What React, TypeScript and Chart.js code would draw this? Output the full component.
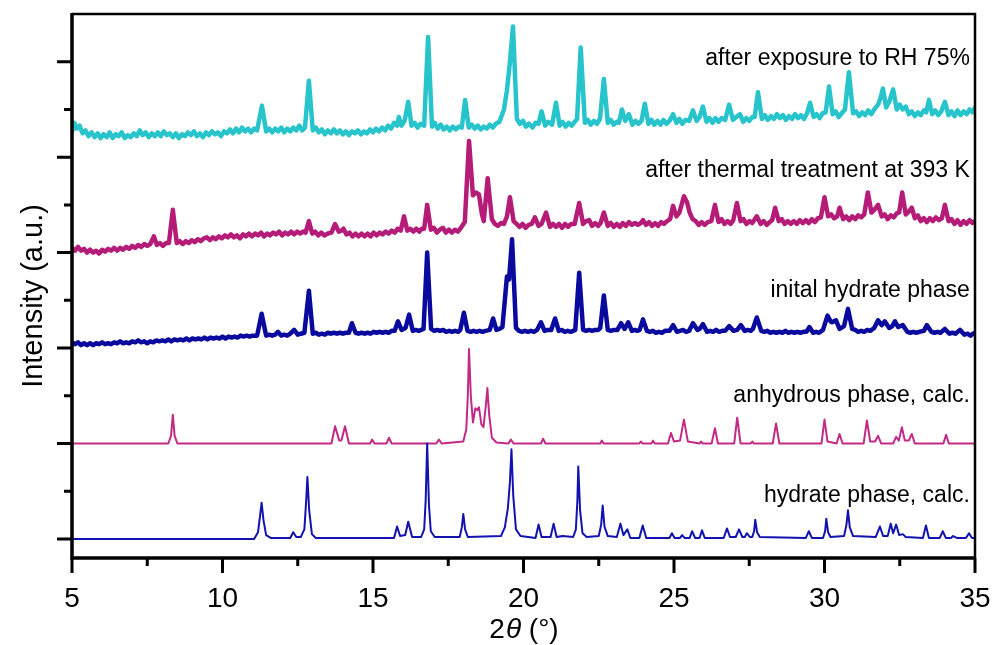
import React, { useEffect, useRef } from "react";
import { Chart, registerables } from "chart.js";

Chart.register(...registerables);

type Pt = [number, number];

const xMajorTicks = [5, 10, 15, 20, 25, 30, 35];
const xMinorTicks = [7.5, 12.5, 17.5, 22.5, 27.5, 32.5];
const yMajorTicks = [0, 1, 2, 3, 4, 5];
const yMinorTicks = [0.5, 1.5, 2.5, 3.5, 4.5];

const seriesNames = [
  "hydrate phase, calc.",
  "anhydrous phase, calc.",
  "inital hydrate phase",
  "after thermal treatment at 393 K",
  "after exposure to RH 75%",
];
const labelX = 34.83;
const labelY = [0.39, 1.43, 2.53, 3.79, 4.97];

const hydrateCalc: Pt[] = [
  [5, 0], [11.05, 0], [11.18, 0.07], [11.25, 0.25], [11.3, 0.38], [11.36, 0.2], [11.45, 0.04], [11.6, 0.01],
  [12.25, 0.01], [12.35, 0.07], [12.45, 0.02], [12.6, 0.02], [12.72, 0.1], [12.78, 0.4], [12.82, 0.65], [12.88, 0.3],
  [12.97, 0.05], [13.1, 0.01], [15.7, 0.01], [15.8, 0.13], [15.9, 0.03], [16.07, 0.04], [16.17, 0.18], [16.3, 0.02],
  [16.6, 0.02], [16.7, 0.1], [16.75, 0.4], [16.8, 1.0], [16.86, 0.35], [16.92, 0.08], [17.05, 0.02],
  [17.88, 0.02], [17.95, 0.12], [18.0, 0.26], [18.06, 0.1], [18.15, 0.02],
  [19.25, 0.03], [19.38, 0.12], [19.48, 0.32], [19.55, 0.6], [19.6, 0.94], [19.66, 0.45], [19.75, 0.1], [19.9, 0.03],
  [20.4, 0.01], [20.5, 0.15], [20.6, 0.02], [20.9, 0.02], [21.0, 0.16], [21.1, 0.02], [21.3, 0.03],
  [21.65, 0.02], [21.74, 0.1], [21.79, 0.4], [21.82, 0.76], [21.88, 0.3], [21.96, 0.06], [22.1, 0.02],
  [22.5, 0.03], [22.58, 0.15], [22.63, 0.35], [22.69, 0.13], [22.8, 0.03], [23.1, 0.02],
  [23.22, 0.16], [23.32, 0.04], [23.45, 0.1], [23.55, 0.01], [23.85, 0.01], [23.96, 0.14], [24.08, 0.01], [24.85, 0.01],
  [24.93, 0.06], [25.02, 0.01], [25.2, 0.01], [25.27, 0.04], [25.35, 0.01], [25.52, 0.01], [25.6, 0.08], [25.7, 0.01],
  [25.85, 0.01], [25.93, 0.09], [26.02, 0.01], [26.65, 0.01], [26.76, 0.11], [26.86, 0.02], [27.05, 0.02], [27.16, 0.1],
  [27.27, 0.02], [27.35, 0.02], [27.42, 0.06], [27.52, 0.02], [27.6, 0.02], [27.66, 0.08], [27.7, 0.2], [27.76, 0.07],
  [27.85, 0.02], [29.38, 0.01], [29.48, 0.08], [29.58, 0.01], [29.95, 0.01], [30.02, 0.08], [30.06, 0.21], [30.12, 0.07],
  [30.2, 0.02], [30.65, 0.03], [30.73, 0.15], [30.78, 0.3], [30.84, 0.12], [30.95, 0.03],
  [31.7, 0.02], [31.84, 0.13], [31.95, 0.03], [32.1, 0.03], [32.2, 0.16], [32.28, 0.06], [32.38, 0.15], [32.48, 0.04],
  [32.6, 0.05], [32.7, 0.02], [33.27, 0.01], [33.37, 0.14], [33.47, 0.01], [33.83, 0.01], [33.93, 0.08], [34.03, 0.01],
  [34.2, 0.01], [34.27, 0.03], [34.4, 0.01], [34.7, 0.01], [34.8, 0.06], [34.9, 0.01], [35, 0.01],
];

const anhydrousCalc: Pt[] = [
  [5, 1], [8.2, 1.0], [8.29, 1.08], [8.35, 1.3], [8.41, 1.08], [8.5, 1.0], [13.62, 1.0], [13.74, 1.18], [13.88, 1.03],
  [13.95, 1.03], [14.07, 1.18], [14.2, 1.0], [14.9, 1.0], [14.97, 1.04], [15.05, 1.0], [15.45, 1.0], [15.53, 1.06],
  [15.62, 1.0], [17.1, 1.0], [17.19, 1.04], [17.28, 1.0],
  [18.0, 1.02], [18.1, 1.15], [18.15, 1.5], [18.19, 1.99], [18.25, 1.5], [18.32, 1.22], [18.4, 1.37], [18.47, 1.35],
  [18.52, 1.38], [18.6, 1.2], [18.67, 1.17], [18.75, 1.4], [18.8, 1.58], [18.86, 1.3], [18.95, 1.06], [19.1, 1.01],
  [19.5, 1.0], [19.58, 1.04], [19.67, 1.0], [20.58, 1.0], [20.65, 1.05], [20.73, 1.0], [22.55, 1.0], [22.6, 1.03],
  [22.66, 1.0], [23.85, 1.0], [23.9, 1.02], [23.96, 1.0], [24.25, 1.0], [24.3, 1.03], [24.36, 1.0], [24.8, 1.0],
  [24.9, 1.11], [25.0, 1.02], [25.2, 1.03], [25.33, 1.25], [25.46, 1.02], [25.85, 1.0], [25.9, 1.02], [25.95, 1.0],
  [26.25, 1.0], [26.36, 1.16], [26.46, 1.0], [27.0, 1.0], [27.1, 1.27], [27.21, 1.0], [27.55, 1.0], [27.6, 1.02],
  [27.65, 1.0], [28.28, 1.0], [28.39, 1.21], [28.5, 1.0], [29.9, 1.0], [30.0, 1.25], [30.1, 1.02], [30.4, 1.0],
  [30.5, 1.1], [30.6, 1.0], [31.3, 1.0], [31.41, 1.24], [31.52, 1.02], [31.68, 1.02], [31.78, 1.08], [31.88, 1.0],
  [32.28, 1.0], [32.38, 1.07], [32.47, 1.03], [32.57, 1.17], [32.67, 1.03], [32.8, 1.03], [32.9, 1.1], [33.0, 1.0],
  [33.95, 1.0], [34.04, 1.09], [34.13, 1.0], [35, 1.0],
];

const initialHydrate: Pt[] = [
  [5, 2.06], [5.1, 2.04], [5.2, 2.06], [5.3, 2.03], [5.4, 2.05], [5.5, 2.03], [5.6, 2.05], [5.7, 2.03], [5.8, 2.05],
  [5.9, 2.04], [6.0, 2.06], [6.1, 2.04], [6.2, 2.05], [6.3, 2.04], [6.4, 2.06], [6.5, 2.05], [6.6, 2.07], [6.7, 2.05],
  [6.8, 2.06], [6.9, 2.05], [7.0, 2.07], [7.1, 2.06], [7.2, 2.08], [7.3, 2.06], [7.4, 2.07], [7.5, 2.05], [7.6, 2.07],
  [7.7, 2.06], [7.8, 2.08], [7.9, 2.07], [8.0, 2.08], [8.1, 2.07], [8.2, 2.09], [8.3, 2.07], [8.4, 2.09], [8.5, 2.08],
  [8.6, 2.09], [8.7, 2.08], [8.8, 2.1], [8.9, 2.08], [9.0, 2.1], [9.1, 2.09], [9.2, 2.1], [9.3, 2.09], [9.4, 2.11],
  [9.5, 2.09], [9.6, 2.11], [9.7, 2.1], [9.8, 2.11], [9.9, 2.1], [10.0, 2.12], [10.1, 2.1], [10.2, 2.12], [10.3, 2.11],
  [10.4, 2.12], [10.5, 2.11], [10.6, 2.13], [10.7, 2.12], [10.8, 2.13], [10.9, 2.12], [11.0, 2.13], [11.15, 2.13],
  [11.3, 2.36], [11.45, 2.13], [11.55, 2.14], [11.65, 2.13], [11.75, 2.14], [11.84, 2.17], [11.95, 2.13], [12.05, 2.14],
  [12.15, 2.13], [12.25, 2.15], [12.38, 2.19], [12.5, 2.14], [12.6, 2.15], [12.72, 2.16], [12.87, 2.6], [13.0, 2.15],
  [13.1, 2.16], [13.2, 2.14], [13.3, 2.15], [13.4, 2.14], [13.5, 2.16], [13.6, 2.15], [13.7, 2.16], [13.8, 2.15],
  [13.9, 2.16], [14.0, 2.15], [14.1, 2.16], [14.2, 2.16], [14.3, 2.26], [14.42, 2.16], [14.52, 2.15], [14.62, 2.16],
  [14.72, 2.15], [14.82, 2.16], [14.92, 2.15], [15.02, 2.17], [15.12, 2.16], [15.22, 2.17], [15.32, 2.16], [15.42, 2.17],
  [15.52, 2.16], [15.62, 2.18], [15.72, 2.18], [15.83, 2.28], [15.95, 2.19], [16.08, 2.21], [16.2, 2.35], [16.32, 2.18],
  [16.42, 2.19], [16.52, 2.18], [16.6, 2.19], [16.68, 2.2], [16.8, 3.0], [16.93, 2.2], [17.03, 2.18], [17.13, 2.19],
  [17.23, 2.18], [17.33, 2.19], [17.43, 2.17], [17.53, 2.18], [17.63, 2.17], [17.73, 2.18], [17.83, 2.17], [17.9, 2.19],
  [18.02, 2.37], [18.14, 2.18], [18.24, 2.17], [18.34, 2.18], [18.44, 2.17], [18.54, 2.18], [18.64, 2.17], [18.74, 2.18],
  [18.88, 2.19], [18.99, 2.31], [19.1, 2.19], [19.2, 2.2], [19.3, 2.22], [19.45, 2.75], [19.52, 2.72], [19.62, 3.14],
  [19.75, 2.21], [19.85, 2.18], [19.95, 2.17], [20.05, 2.18], [20.15, 2.17], [20.25, 2.18], [20.35, 2.17], [20.45, 2.19],
  [20.58, 2.27], [20.7, 2.18], [20.8, 2.19], [20.92, 2.19], [21.05, 2.31], [21.17, 2.18], [21.27, 2.19], [21.37, 2.17],
  [21.47, 2.18], [21.57, 2.17], [21.65, 2.18], [21.72, 2.19], [21.85, 2.79], [21.98, 2.19], [22.08, 2.18], [22.18, 2.19],
  [22.28, 2.18], [22.38, 2.19], [22.48, 2.19], [22.55, 2.21], [22.67, 2.55], [22.8, 2.19], [22.9, 2.18], [23.0, 2.19],
  [23.12, 2.19], [23.24, 2.26], [23.36, 2.2], [23.48, 2.27], [23.6, 2.18], [23.7, 2.19], [23.78, 2.18], [23.86, 2.19],
  [23.97, 2.3], [24.1, 2.18], [24.2, 2.17], [24.3, 2.18], [24.4, 2.16], [24.5, 2.17], [24.6, 2.16], [24.7, 2.18],
  [24.85, 2.18], [24.97, 2.24], [25.1, 2.17], [25.2, 2.18], [25.3, 2.19], [25.4, 2.17], [25.5, 2.18], [25.63, 2.26],
  [25.78, 2.19], [25.85, 2.2], [25.96, 2.25], [26.1, 2.17], [26.2, 2.18], [26.3, 2.17], [26.4, 2.19], [26.5, 2.17],
  [26.6, 2.18], [26.7, 2.18], [26.83, 2.23], [26.98, 2.18], [27.1, 2.19], [27.22, 2.24], [27.35, 2.18], [27.45, 2.19],
  [27.55, 2.18], [27.62, 2.2], [27.75, 2.32], [27.9, 2.18], [28.0, 2.17], [28.1, 2.18], [28.2, 2.16], [28.3, 2.17],
  [28.4, 2.16], [28.5, 2.17], [28.6, 2.16], [28.7, 2.18], [28.8, 2.16], [28.9, 2.17], [29.0, 2.16], [29.1, 2.17],
  [29.2, 2.16], [29.3, 2.17], [29.4, 2.17], [29.5, 2.22], [29.62, 2.16], [29.72, 2.17], [29.82, 2.16], [29.95, 2.19],
  [30.1, 2.34], [30.2, 2.28], [30.25, 2.27], [30.38, 2.29], [30.5, 2.2], [30.6, 2.22], [30.65, 2.23], [30.78, 2.41],
  [30.92, 2.2], [31.02, 2.19], [31.12, 2.17], [31.22, 2.18], [31.32, 2.17], [31.42, 2.19], [31.52, 2.18], [31.65, 2.21],
  [31.78, 2.29], [31.9, 2.24], [32.0, 2.28], [32.15, 2.21], [32.25, 2.23], [32.34, 2.28], [32.45, 2.22], [32.6, 2.24],
  [32.75, 2.17], [32.85, 2.16], [32.95, 2.17], [33.05, 2.16], [33.15, 2.17], [33.3, 2.18], [33.4, 2.24], [33.55, 2.17],
  [33.65, 2.16], [33.75, 2.17], [33.85, 2.16], [34.0, 2.2], [34.15, 2.15], [34.25, 2.16], [34.35, 2.15], [34.5, 2.19],
  [34.65, 2.14], [34.75, 2.15], [34.85, 2.13], [34.93, 2.15], [35, 2.16],
];

const afterThermal: Pt[] = [
  [5, 3.05], [5.1, 3.02], [5.2, 3.06], [5.3, 3.02], [5.4, 3.04], [5.5, 3.0], [5.6, 3.03], [5.7, 3.0], [5.8, 3.02],
  [5.9, 2.99], [6.0, 3.03], [6.1, 3.01], [6.2, 3.04], [6.3, 3.02], [6.4, 3.05], [6.5, 3.02], [6.6, 3.05], [6.7, 3.03],
  [6.8, 3.06], [6.9, 3.04], [7.0, 3.07], [7.1, 3.05], [7.2, 3.08], [7.3, 3.06], [7.4, 3.09], [7.5, 3.07], [7.6, 3.09],
  [7.72, 3.17], [7.82, 3.08], [7.92, 3.1], [8.02, 3.07], [8.12, 3.1], [8.22, 3.1], [8.35, 3.45], [8.48, 3.1],
  [8.58, 3.12], [8.68, 3.09], [8.78, 3.12], [8.88, 3.1], [8.98, 3.13], [9.08, 3.11], [9.18, 3.14], [9.28, 3.12],
  [9.38, 3.15], [9.48, 3.16], [9.58, 3.13], [9.68, 3.16], [9.78, 3.14], [9.88, 3.17], [9.98, 3.15], [10.08, 3.18],
  [10.18, 3.16], [10.28, 3.19], [10.38, 3.16], [10.48, 3.18], [10.58, 3.15], [10.68, 3.19], [10.78, 3.17], [10.88, 3.2],
  [10.98, 3.17], [11.08, 3.2], [11.18, 3.18], [11.28, 3.21], [11.38, 3.17], [11.48, 3.2], [11.58, 3.18], [11.68, 3.21],
  [11.78, 3.19], [11.88, 3.22], [11.98, 3.18], [12.08, 3.21], [12.18, 3.19], [12.28, 3.22], [12.38, 3.19], [12.48, 3.22],
  [12.58, 3.2], [12.68, 3.22], [12.76, 3.21], [12.87, 3.33], [12.98, 3.2], [13.08, 3.22], [13.18, 3.18], [13.28, 3.21],
  [13.38, 3.18], [13.5, 3.2], [13.62, 3.21], [13.74, 3.3], [13.86, 3.22], [13.95, 3.23], [14.02, 3.25], [14.12, 3.19],
  [14.22, 3.21], [14.32, 3.17], [14.42, 3.2], [14.52, 3.17], [14.62, 3.2], [14.72, 3.17], [14.82, 3.2], [14.92, 3.17],
  [15.02, 3.21], [15.12, 3.18], [15.22, 3.21], [15.32, 3.19], [15.42, 3.22], [15.52, 3.2], [15.62, 3.23], [15.72, 3.21],
  [15.82, 3.25], [15.92, 3.23], [16.03, 3.38], [16.14, 3.23], [16.24, 3.25], [16.34, 3.22], [16.44, 3.25], [16.54, 3.22],
  [16.62, 3.25], [16.7, 3.25], [16.8, 3.5], [16.92, 3.24], [17.02, 3.26], [17.12, 3.21], [17.22, 3.24], [17.32, 3.26],
  [17.42, 3.21], [17.52, 3.24], [17.62, 3.21], [17.72, 3.24], [17.82, 3.22], [17.92, 3.26], [18.05, 3.32], [18.19, 4.17],
  [18.32, 3.6], [18.42, 3.63], [18.52, 3.61], [18.62, 3.4], [18.68, 3.33], [18.81, 3.78], [18.95, 3.35], [19.05, 3.3],
  [19.15, 3.28], [19.25, 3.31], [19.35, 3.3], [19.45, 3.38], [19.55, 3.58], [19.67, 3.33], [19.77, 3.3], [19.87, 3.27],
  [19.97, 3.3], [20.07, 3.26], [20.17, 3.29], [20.27, 3.3], [20.38, 3.37], [20.5, 3.28], [20.6, 3.3], [20.75, 3.42],
  [20.88, 3.27], [20.98, 3.3], [21.08, 3.27], [21.18, 3.3], [21.28, 3.26], [21.38, 3.3], [21.48, 3.27], [21.58, 3.3],
  [21.7, 3.3], [21.85, 3.52], [21.98, 3.3], [22.08, 3.33], [22.18, 3.34], [22.28, 3.28], [22.38, 3.31], [22.48, 3.28],
  [22.56, 3.31], [22.67, 3.42], [22.8, 3.28], [22.9, 3.31], [23.0, 3.27], [23.1, 3.3], [23.2, 3.27], [23.3, 3.31],
  [23.4, 3.28], [23.5, 3.32], [23.6, 3.29], [23.7, 3.31], [23.8, 3.29], [23.9, 3.31], [23.97, 3.34], [24.07, 3.29],
  [24.17, 3.32], [24.27, 3.28], [24.37, 3.31], [24.47, 3.28], [24.57, 3.32], [24.67, 3.3], [24.77, 3.33], [24.87, 3.35],
  [24.97, 3.49], [25.08, 3.38], [25.18, 3.42], [25.33, 3.59], [25.43, 3.53], [25.52, 3.42], [25.62, 3.35], [25.72, 3.33],
  [25.82, 3.29], [25.92, 3.32], [26.02, 3.29], [26.12, 3.32], [26.24, 3.33], [26.36, 3.5], [26.48, 3.32], [26.58, 3.35],
  [26.68, 3.3], [26.78, 3.33], [26.88, 3.3], [26.97, 3.34], [27.09, 3.52], [27.21, 3.33], [27.31, 3.35], [27.41, 3.3],
  [27.51, 3.33], [27.6, 3.31], [27.75, 3.38], [27.88, 3.3], [27.98, 3.33], [28.08, 3.29], [28.18, 3.32], [28.26, 3.34],
  [28.36, 3.47], [28.48, 3.33], [28.58, 3.35], [28.68, 3.3], [28.78, 3.33], [28.88, 3.3], [28.98, 3.33], [29.08, 3.3],
  [29.18, 3.34], [29.28, 3.31], [29.38, 3.34], [29.48, 3.31], [29.58, 3.35], [29.68, 3.32], [29.78, 3.36], [29.88, 3.37],
  [30.0, 3.58], [30.12, 3.38], [30.22, 3.4], [30.32, 3.36], [30.42, 3.38], [30.5, 3.47], [30.62, 3.35], [30.72, 3.38],
  [30.82, 3.34], [30.92, 3.38], [31.02, 3.35], [31.12, 3.39], [31.22, 3.37], [31.32, 3.4], [31.44, 3.63], [31.56, 3.42],
  [31.66, 3.45], [31.78, 3.5], [31.9, 3.38], [32.0, 3.4], [32.1, 3.35], [32.2, 3.39], [32.3, 3.37], [32.4, 3.41],
  [32.48, 3.42], [32.58, 3.63], [32.7, 3.4], [32.8, 3.43], [32.9, 3.47], [33.0, 3.36], [33.1, 3.39], [33.2, 3.33],
  [33.3, 3.36], [33.4, 3.32], [33.5, 3.36], [33.6, 3.33], [33.7, 3.37], [33.8, 3.34], [33.9, 3.36], [34.0, 3.5],
  [34.12, 3.33], [34.22, 3.35], [34.32, 3.3], [34.42, 3.34], [34.52, 3.29], [34.62, 3.33], [34.72, 3.3], [34.82, 3.34],
  [34.92, 3.31], [35, 3.33],
];

const afterExposure: Pt[] = [
  [5, 4.27], [5.08, 4.36], [5.15, 4.3], [5.25, 4.33], [5.35, 4.25], [5.45, 4.28], [5.55, 4.22], [5.65, 4.26],
  [5.75, 4.21], [5.85, 4.25], [5.95, 4.2], [6.05, 4.24], [6.15, 4.21], [6.25, 4.26], [6.35, 4.2], [6.45, 4.24],
  [6.55, 4.22], [6.65, 4.26], [6.75, 4.2], [6.85, 4.23], [6.95, 4.21], [7.05, 4.25], [7.15, 4.22], [7.25, 4.28],
  [7.35, 4.23], [7.45, 4.26], [7.55, 4.21], [7.65, 4.25], [7.75, 4.22], [7.85, 4.26], [7.95, 4.22], [8.05, 4.27],
  [8.15, 4.23], [8.25, 4.25], [8.35, 4.21], [8.45, 4.25], [8.55, 4.2], [8.65, 4.24], [8.75, 4.22], [8.85, 4.26],
  [8.95, 4.23], [9.05, 4.27], [9.15, 4.22], [9.25, 4.25], [9.35, 4.21], [9.45, 4.26], [9.55, 4.23], [9.65, 4.27],
  [9.75, 4.24], [9.85, 4.26], [9.95, 4.22], [10.05, 4.27], [10.15, 4.25], [10.25, 4.29], [10.35, 4.25], [10.45, 4.3],
  [10.55, 4.26], [10.65, 4.31], [10.75, 4.27], [10.85, 4.3], [10.95, 4.26], [11.05, 4.3], [11.15, 4.28], [11.31, 4.54],
  [11.45, 4.27], [11.55, 4.3], [11.65, 4.26], [11.75, 4.3], [11.85, 4.27], [11.95, 4.31], [12.05, 4.26], [12.15, 4.3],
  [12.25, 4.27], [12.35, 4.31], [12.45, 4.28], [12.55, 4.33], [12.65, 4.28], [12.74, 4.31], [12.87, 4.8], [13.0, 4.28],
  [13.1, 4.31], [13.2, 4.26], [13.3, 4.29], [13.4, 4.24], [13.5, 4.28], [13.6, 4.25], [13.7, 4.29], [13.8, 4.25],
  [13.9, 4.28], [14.0, 4.24], [14.1, 4.27], [14.2, 4.23], [14.3, 4.27], [14.4, 4.25], [14.5, 4.28], [14.6, 4.24],
  [14.7, 4.27], [14.8, 4.25], [14.9, 4.29], [15.0, 4.26], [15.1, 4.3], [15.2, 4.27], [15.3, 4.31], [15.4, 4.28],
  [15.5, 4.33], [15.6, 4.3], [15.7, 4.36], [15.8, 4.33], [15.86, 4.42], [15.95, 4.33], [16.05, 4.38], [16.17, 4.58],
  [16.28, 4.33], [16.38, 4.36], [16.48, 4.31], [16.58, 4.35], [16.7, 4.33], [16.83, 5.26], [16.96, 4.32], [17.05, 4.36],
  [17.15, 4.3], [17.25, 4.34], [17.35, 4.29], [17.45, 4.32], [17.55, 4.28], [17.65, 4.32], [17.75, 4.29], [17.85, 4.32],
  [17.95, 4.31], [18.06, 4.6], [18.18, 4.31], [18.28, 4.34], [18.38, 4.3], [18.48, 4.33], [18.58, 4.29], [18.68, 4.32],
  [18.78, 4.3], [18.88, 4.34], [18.98, 4.31], [19.08, 4.35], [19.2, 4.37], [19.35, 4.5], [19.45, 4.7], [19.55, 5.0],
  [19.65, 5.37], [19.78, 4.4], [19.88, 4.35], [19.98, 4.38], [20.08, 4.32], [20.18, 4.35], [20.3, 4.31], [20.4, 4.36],
  [20.5, 4.35], [20.6, 4.48], [20.72, 4.33], [20.82, 4.37], [20.95, 4.34], [21.08, 4.57], [21.2, 4.33], [21.3, 4.37],
  [21.4, 4.32], [21.5, 4.36], [21.6, 4.33], [21.7, 4.37], [21.78, 4.4], [21.9, 5.15], [22.04, 4.36], [22.14, 4.39],
  [22.24, 4.34], [22.34, 4.38], [22.44, 4.35], [22.54, 4.4], [22.67, 4.82], [22.8, 4.36], [22.9, 4.39], [23.0, 4.34],
  [23.1, 4.37], [23.17, 4.36], [23.27, 4.5], [23.38, 4.38], [23.5, 4.45], [23.62, 4.34], [23.72, 4.38], [23.82, 4.35],
  [23.92, 4.38], [24.03, 4.56], [24.15, 4.35], [24.25, 4.39], [24.35, 4.34], [24.45, 4.38], [24.55, 4.34], [24.65, 4.39],
  [24.75, 4.35], [24.85, 4.38], [24.97, 4.45], [25.08, 4.36], [25.18, 4.4], [25.28, 4.35], [25.38, 4.39], [25.5, 4.38],
  [25.63, 4.49], [25.75, 4.38], [25.85, 4.42], [25.96, 4.53], [26.08, 4.37], [26.18, 4.41], [26.28, 4.36], [26.38, 4.41],
  [26.48, 4.37], [26.58, 4.41], [26.7, 4.39], [26.83, 4.55], [26.96, 4.39], [27.06, 4.42], [27.19, 4.45], [27.3, 4.37],
  [27.4, 4.41], [27.5, 4.38], [27.6, 4.42], [27.68, 4.42], [27.79, 4.68], [27.92, 4.4], [28.02, 4.44], [28.12, 4.39],
  [28.22, 4.43], [28.32, 4.4], [28.42, 4.45], [28.52, 4.41], [28.62, 4.44], [28.72, 4.39], [28.82, 4.43], [28.92, 4.4],
  [29.02, 4.45], [29.12, 4.41], [29.22, 4.44], [29.32, 4.4], [29.42, 4.46], [29.52, 4.57], [29.64, 4.42], [29.74, 4.45],
  [29.84, 4.41], [29.94, 4.46], [30.04, 4.47], [30.15, 4.74], [30.27, 4.45], [30.37, 4.48], [30.47, 4.42], [30.57, 4.46],
  [30.68, 4.5], [30.81, 4.89], [30.95, 4.46], [31.05, 4.48], [31.15, 4.43], [31.25, 4.47], [31.35, 4.44], [31.45, 4.49],
  [31.55, 4.45], [31.65, 4.5], [31.78, 4.55], [31.86, 4.62], [31.94, 4.72], [32.05, 4.52], [32.15, 4.58], [32.28, 4.71],
  [32.4, 4.5], [32.5, 4.55], [32.6, 4.5], [32.7, 4.53], [32.8, 4.45], [32.9, 4.48], [33.0, 4.43], [33.1, 4.47],
  [33.2, 4.44], [33.3, 4.49], [33.38, 4.47], [33.47, 4.6], [33.58, 4.45], [33.68, 4.49], [33.78, 4.44], [33.88, 4.48],
  [34.0, 4.58], [34.12, 4.44], [34.22, 4.48], [34.32, 4.43], [34.42, 4.49], [34.52, 4.44], [34.62, 4.48], [34.72, 4.45],
  [34.82, 4.5], [34.92, 4.47], [35, 4.52],
];

const seriesData = [hydrateCalc, anhydrousCalc, initialHydrate, afterThermal, afterExposure];
const seriesColors = ["#1212B0", "#C22A86", "#0A0A9E", "#B41C78", "#28C4CC"];
const seriesWidths = [2, 2, 4.5, 4.5, 4.5];

const FONT = "'Liberation Sans', Arial, sans-serif";

const decorPlugin = {
  id: "decor",
  afterDraw(chart: any) {
    const { ctx, chartArea, scales } = chart;
    const { left, right, top, bottom } = chartArea;
    const xs = scales.x;
    const ys = scales.y;
    ctx.save();
    ctx.strokeStyle = "#000";
    ctx.lineCap = "butt";
    ctx.lineWidth = 2.5;
    ctx.beginPath();
    ctx.moveTo(left, top);
    ctx.lineTo(right, top);
    ctx.lineTo(right, bottom);
    ctx.stroke();
    ctx.lineWidth = 3.5;
    ctx.beginPath();
    ctx.moveTo(left, top - 1);
    ctx.lineTo(left, bottom);
    ctx.lineTo(right + 1, bottom);
    ctx.stroke();
    ctx.lineWidth = 3;
    ctx.beginPath();
    xMajorTicks.forEach((v) => {
      const px = xs.getPixelForValue(v);
      ctx.moveTo(px, bottom);
      ctx.lineTo(px, bottom + 15);
    });
    xMinorTicks.forEach((v) => {
      const px = xs.getPixelForValue(v);
      ctx.moveTo(px, bottom);
      ctx.lineTo(px, bottom + 8);
    });
    yMajorTicks.forEach((v) => {
      const py = ys.getPixelForValue(v);
      ctx.moveTo(left, py);
      ctx.lineTo(left - 15, py);
    });
    yMinorTicks.forEach((v) => {
      const py = ys.getPixelForValue(v);
      ctx.moveTo(left, py);
      ctx.lineTo(left - 8, py);
    });
    ctx.stroke();

    ctx.fillStyle = "#000";
    ctx.font = `28px ${FONT}`;
    ctx.textAlign = "center";
    ctx.textBaseline = "alphabetic";
    xMajorTicks.forEach((v) => {
      ctx.fillText(String(v), xs.getPixelForValue(v), bottom + 49);
    });

    const cx = (left + right) / 2;
    const ty = bottom + 80;
    const partA = "2";
    const partB = "θ";
    const partC = " (°)";
    ctx.font = `28px ${FONT}`;
    const wA = ctx.measureText(partA).width;
    const wC = ctx.measureText(partC).width;
    ctx.font = `italic 28px ${FONT}`;
    const wB = ctx.measureText(partB).width;
    let sx = cx - (wA + wB + wC) / 2;
    ctx.textAlign = "left";
    ctx.font = `28px ${FONT}`;
    ctx.fillText(partA, sx, ty);
    sx += wA + 1;
    ctx.font = `italic 28px ${FONT}`;
    ctx.fillText(partB, sx, ty);
    sx += wB;
    ctx.font = `28px ${FONT}`;
    ctx.fillText(partC, sx, ty);

    ctx.save();
    ctx.translate(left - 30, (top + bottom) / 2 + 10);
    ctx.rotate(-Math.PI / 2);
    ctx.textAlign = "center";
    ctx.font = `29px ${FONT}`;
    ctx.fillText("Intensity (a.u.)", 0, 0);
    ctx.restore();

    ctx.font = `23px ${FONT}`;
    ctx.textAlign = "right";
    ctx.fillStyle = "#000";
    seriesNames.forEach((name, i) => {
      ctx.fillText(name, xs.getPixelForValue(labelX), ys.getPixelForValue(labelY[i]));
    });
    ctx.restore();
  },
};

export default function App() {
  const canvasRef = useRef<HTMLCanvasElement | null>(null);

  useEffect(() => {
    document.body.style.margin = "0";
    const canvas = canvasRef.current;
    if (!canvas) return;
    const chart = new Chart(canvas, {
      type: "line",
      data: {
        datasets: seriesData.map((arr, i) => ({
          label: seriesNames[i],
          data: arr.map(([x, y]) => ({ x, y })),
          borderColor: seriesColors[i],
          borderWidth: seriesWidths[i],
          pointRadius: 0,
          tension: 0,
          fill: false,
          borderJoinStyle: "round" as const,
          borderCapStyle: "round" as const,
        })),
      },
      options: {
        animation: false,
        responsive: false,
        devicePixelRatio: 1,
        events: [],
        layout: { padding: { left: 72, right: 20, top: 14, bottom: 87 } },
        plugins: { legend: { display: false }, tooltip: { enabled: false }, title: { display: false } },
        scales: {
          x: { type: "linear", min: 5, max: 35, display: false },
          y: { type: "linear", min: -0.2, max: 5.5, display: false },
        },
      },
      plugins: [decorPlugin],
    });
    return () => chart.destroy();
  }, []);

  return (
    <div style={{ width: 995, height: 645, background: "#fff" }}>
      <canvas ref={canvasRef} width={995} height={645} style={{ width: 995, height: 645, display: "block" }} />
    </div>
  );
}
